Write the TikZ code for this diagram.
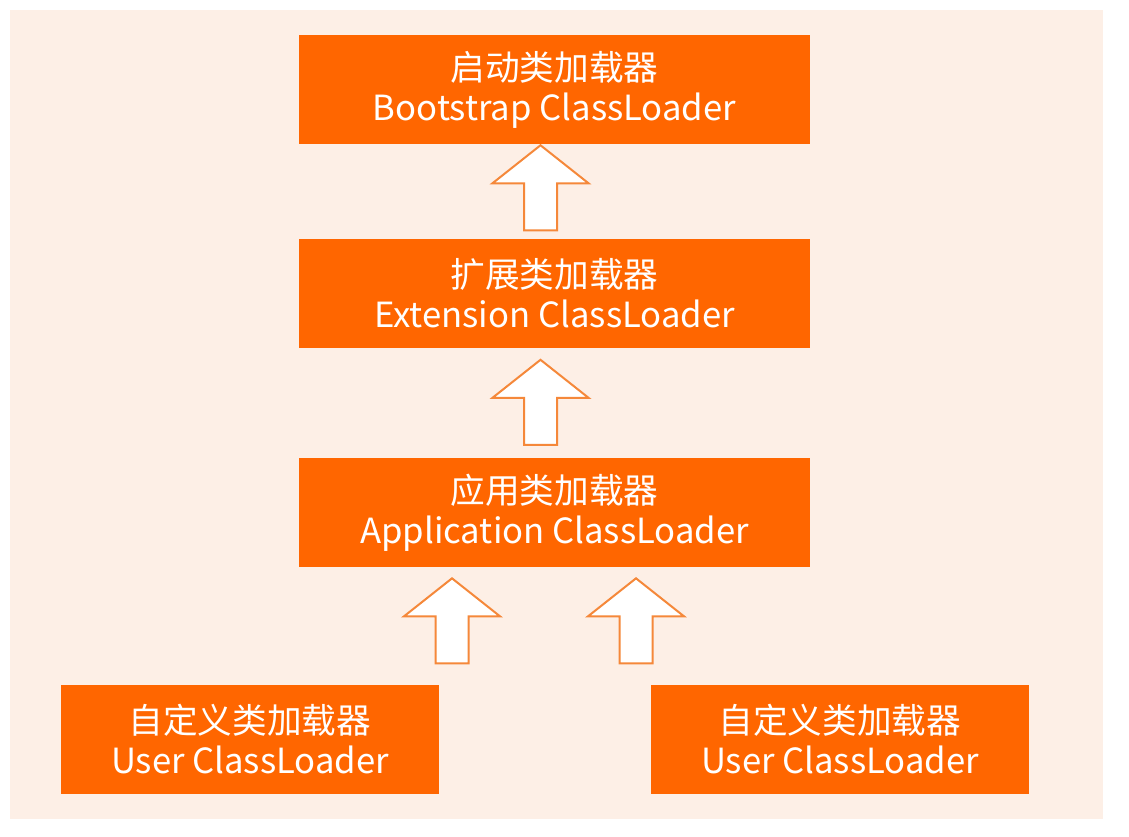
\documentclass[tikz,border=0pt]{standalone}
\usepackage{fontspec}
\setmainfont{Noto Sans CJK SC}
\usetikzlibrary{positioning, calc}
\definecolor{corange}{HTML}{FF6600}
\definecolor{cpeach}{HTML}{FDEFE6}
\definecolor{carrow}{HTML}{F5883A}
\tikzset{
  every picture/.style={font=\fontsize{26}{30}\selectfont},
  loader/.style={fill=corange, text=white, align=center, inner sep=0pt,
    minimum width=#1, minimum height=81.75pt},
  loader/.default=383.25pt,
  arrowline/.style={draw=carrow, fill=white, line width=1.5pt, line join=miter},
  uparrow/.pic={
    \path[arrowline] (0,0) -- (48,38) -- (16.5,38) -- (16.5,85) -- (-16.5,85)
      -- (-16.5,38) -- (-48,38) -- cycle;
  },
}
\begin{document}
\begin{tikzpicture}[x=0.75pt, y=-0.75pt]
  \useasboundingbox (0,0) rectangle (1129,837);
  \fill[cpeach] (10,10) rectangle (1103,819);
  % class loader boxes
  \node[loader] (boot) at (554.5,89.5) {启动类加载器\\Bootstrap ClassLoader};
  \node[loader, below=70.5pt of boot] (ext) {扩展类加载器\\Extension ClassLoader};
  \node[loader, below=82.5pt of ext] (app) {应用类加载器\\Application ClassLoader};
  \node[loader=283.5pt, below=87.75pt of app, xshift=-228.4pt] (userl) {自定义类加载器\\User ClassLoader};
  \node[loader=283.5pt, below=87.75pt of app, xshift=214.1pt] (userr) {自定义类加载器\\User ClassLoader};
  % parent delegation arrows
  \pic at ($(boot.south)+(-14,1)$) {uparrow};
  \pic at ($(ext.south)+(-14,12)$) {uparrow};
  \pic at ($(app.south)+(-102.5,11)$) {uparrow};
  \pic at ($(app.south)+(81.5,11)$) {uparrow};
\end{tikzpicture}
\end{document}
